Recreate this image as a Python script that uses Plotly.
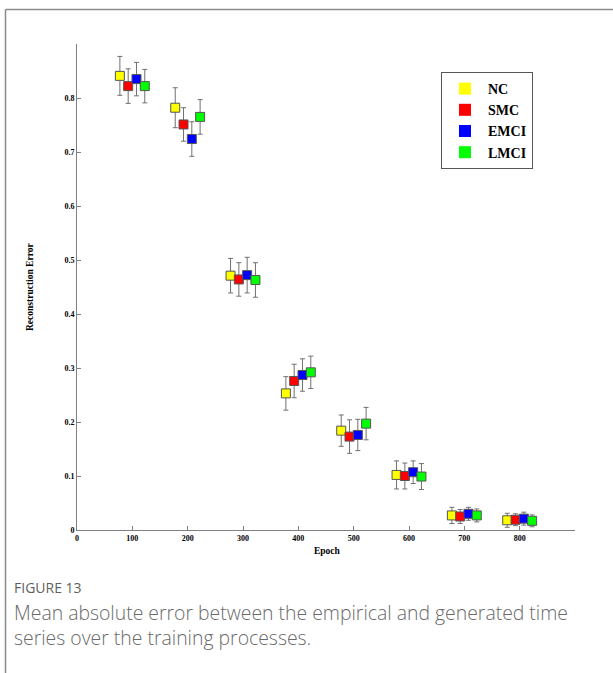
import plotly.graph_objects as go

epochs = [100, 200, 300, 400, 500, 600, 700, 800]
groups = ["NC", "SMC", "EMCI", "LMCI"]
offsets = [-22.5, -7.5, 7.5, 22.5]
colors = ["#FFFF00", "#FF0000", "#0000FF", "#00FF00"]

nc_mean = [0.841, 0.782, 0.471, 0.253, 0.184, 0.102, 0.027, 0.018]
nc_err = [0.036, 0.037, 0.032, 0.031, 0.029, 0.026, 0.015, 0.013]
smc_mean = [0.822, 0.751, 0.464, 0.276, 0.173, 0.100, 0.025, 0.019]
smc_err = [0.032, 0.031, 0.031, 0.031, 0.031, 0.024, 0.013, 0.011]
emci_mean = [0.835, 0.724, 0.472, 0.287, 0.176, 0.107, 0.030, 0.021]
emci_err = [0.031, 0.032, 0.033, 0.030, 0.029, 0.021, 0.012, 0.012]
lmci_mean = [0.822, 0.765, 0.463, 0.292, 0.197, 0.099, 0.027, 0.017]
lmci_err = [0.031, 0.032, 0.032, 0.030, 0.030, 0.024, 0.012, 0.011]

x_ticks = [0, 100, 200, 300, 400, 500, 600, 700, 800]
y_ticks = [0, 0.1, 0.2, 0.3, 0.4, 0.5, 0.6, 0.7, 0.8]

caption_lines = ["Mean absolute error between the empirical and generated time",
                 "series over the training processes."]

means = [nc_mean, smc_mean, emci_mean, lmci_mean]
errs = [nc_err, smc_err, emci_err, lmci_err]

W, H = 613, 673
ml, mr, mt, mb = 77, 38, 44, 143
pw, ph = W - ml - mr, H - mt - mb

def px2x(px):
    return (px - ml) / pw

def px2y(py):
    return (H - mb - py) / ph

fig = go.Figure()
for g, off, c, m, e in zip(groups, offsets, colors, means, errs):
    fig.add_trace(go.Scatter(
        x=[ep + off for ep in epochs], y=m, mode="markers", name=g,
        showlegend=False,
        marker=dict(symbol="square", size=9, color=c,
                    line=dict(color="#555555", width=1)),
        error_y=dict(type="data", array=e, visible=True, color="#707070",
                     thickness=1, width=2.5),
    ))
for g, c in zip(groups, colors):
    fig.add_trace(go.Scatter(
        x=[None], y=[None], mode="markers", name=f"<b>{g}</b>",
        marker=dict(symbol="square", size=12, color=c, line=dict(width=0)),
    ))

serif = "Liberation Serif"
fig.update_layout(
    width=W, height=H,
    margin=dict(l=ml, r=mr, t=mt, b=mb),
    paper_bgcolor="white", plot_bgcolor="white",
    showlegend=True,
    legend=dict(x=px2x(441), y=px2y(72), xanchor="left", yanchor="top",
                bordercolor="#555555", borderwidth=1, bgcolor="white",
                font=dict(family=serif, size=14, color="black"),
                itemwidth=36, tracegroupgap=0),
    xaxis=dict(range=[0, 900], tickvals=x_ticks,
               ticktext=[f"<b>{v}</b>" for v in x_ticks],
               showgrid=False, zeroline=False, showline=True, linecolor="#808080",
               linewidth=1, ticks="inside", ticklen=4, tickcolor="#808080",
               tickfont=dict(family=serif, size=8, color="black")),
    yaxis=dict(range=[0, 0.9], tickvals=y_ticks,
               ticktext=["<b>0</b>"] + [f"<b>{v:.1f}</b>" for v in y_ticks[1:]],
               showgrid=False, zeroline=False, showline=True, linecolor="#808080",
               linewidth=1, ticks="inside", ticklen=4, tickcolor="#808080",
               tickfont=dict(family=serif, size=8, color="black")),
    font=dict(family=serif),
)

fig.add_annotation(text="<b>Epoch</b>", xref="paper", yref="paper",
                   x=px2x(327), y=px2y(551), xanchor="center", yanchor="middle",
                   showarrow=False,
                   font=dict(family=serif, size=9.5, color="black"))
fig.add_annotation(text="<b>Reconstruction Error</b>", xref="paper", yref="paper",
                   x=px2x(30), y=px2y(287), xanchor="center", yanchor="middle",
                   showarrow=False, textangle=-90,
                   font=dict(family=serif, size=9.5, color="black"))

# figure frame
fig.add_shape(type="line", xref="paper", yref="paper",
              x0=px2x(5.5), x1=px2x(620), y0=px2y(9.5), y1=px2y(9.5),
              line=dict(color="#8a8a8a", width=1.5))
fig.add_shape(type="line", xref="paper", yref="paper",
              x0=px2x(5.5), x1=px2x(5.5), y0=px2y(9.5), y1=px2y(680),
              line=dict(color="#8a8a8a", width=1.5))

# caption
fig.add_annotation(text="FIGURE 13", xref="paper", yref="paper",
                   x=px2x(12), y=px2y(587), xanchor="left", yanchor="middle",
                   showarrow=False,
                   font=dict(family="Open Sans", size=14, color="#5f5f5f"))
fig.add_annotation(text="<br>".join(caption_lines), xref="paper", yref="paper",
                   align="left",
                   x=px2x(12), y=px2y(625), xanchor="left", yanchor="middle",
                   showarrow=False,
                   font=dict(family="Open Sans", size=19.4, color="#6a6a6a",
                             weight=300))

fig.write_html("out.html")
